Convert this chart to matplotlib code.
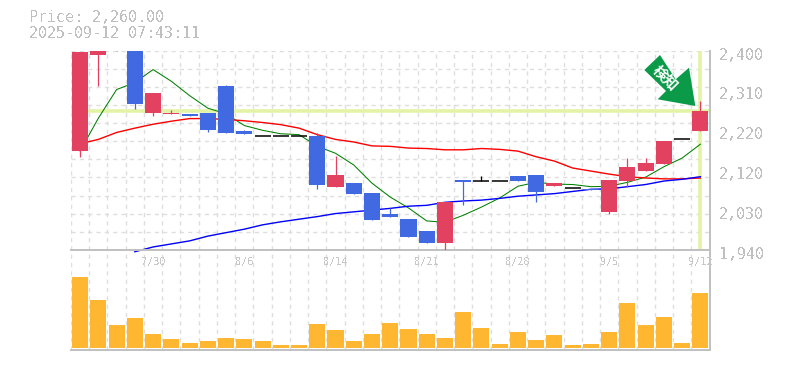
import numpy as np
import matplotlib
matplotlib.use('Agg')
import matplotlib.pyplot as plt
from matplotlib.patches import Polygon
from matplotlib.transforms import ScaledTranslation

plt.rcParams['text.antialiased'] = False

# candles, one per trading day
opens = [2168, 2389, 2402, 2398, 2257, 2253, 2253, 2255, 2317, 2214, 2202, 2202, 2202, 2202, 2086, 2094, 2071, 2023,
         2011, 1984, 1955, 2101, 2100, 2100, 2110, 2112, 2087, 2084, 2081, 2027, 2099, 2122, 2138, 2195, 2214]
highs = [2396, 2400, 2402, 2398, 2301, 2262, 2253, 2255, 2320, 2216, 2204, 2204, 2204, 2209, 2156, 2094, 2071, 2037,
         2011, 1984, 2050, 2101, 2110, 2100, 2110, 2112, 2094, 2084, 2081, 2101, 2152, 2152, 2191, 2195, 2283]
lows = [2155, 2317, 2398, 2265, 2248, 2253, 2248, 2211, 2209, 2207, 2202, 2202, 2202, 2081, 2086, 2070, 2010, 2017,
        1971, 1955, 1938, 2044, 2100, 2100, 2099, 2050, 2087, 2084, 2079, 2023, 2085, 2122, 2138, 2195, 2214]
closes = [2396, 2400, 2398, 2276, 2301, 2257, 2248, 2216, 2209, 2207, 2202, 2202, 2202, 2090, 2112, 2070, 2010, 2017,
          1971, 1955, 2050, 2096, 2100, 2100, 2099, 2073, 2094, 2084, 2079, 2101, 2131, 2140, 2191, 2195, 2260]

ma_short = [2168, 2244, 2310, 2326, 2356, 2329, 2296, 2267, 2254, 2227, 2216, 2208, 2206, 2179, 2163, 2136, 2094, 2062,
            2037, 2007, 2004, 2020, 2039, 2060, 2087, 2096, 2092, 2091, 2086, 2087, 2096, 2108, 2132, 2152, 2184]
ma_mid = [2185, 2195, 2211, 2221, 2230, 2237, 2243, 2243, 2241, 2238, 2234, 2229, 2221, 2206, 2195, 2189, 2180, 2179,
          2175, 2174, 2171, 2171, 2174, 2172, 2168, 2155, 2145, 2129, 2122, 2115, 2109, 2106, 2104, 2104, 2106]
# long average only starts on day 3
ma_long = [1936, 1947, 1954, 1961, 1972, 1980, 1988, 1998, 2005, 2011, 2017, 2024, 2028, 2032, 2036, 2041, 2043, 2050,
           2053, 2055, 2059, 2064, 2067, 2070, 2075, 2080, 2081, 2086, 2091, 2099, 2103, 2109]
ma_long_start = 3

volume = [71, 48, 23, 30, 14, 9, 5, 7, 10, 9, 7, 3, 3, 24, 18, 7, 14, 25,
          19, 14, 10, 36, 20, 4, 16, 8, 13, 3, 4, 16, 45, 23, 31, 5, 55]

date_pos = [4, 9, 14, 19, 24, 29, 34]
date_labels = ['7/30', '8/6', '8/14', '8/21', '8/28', '9/5', '9/12']
price_labels = ['1,940', '2,030', '2,120', '2,220', '2,310', '2,400']
price_now = 2260

RED = '#e2425f'
BLUE = '#4169e1'
ORANGE = '#ffb732'
LIGHT = '#e2f3a6'
GREY = '#c0c0c0'
GRID = '#dedede'
W, H = 785, 370

fig = plt.figure(figsize=(W / 100, H / 100), dpi=100)
ax = fig.add_axes([71 / W, 1 - 250 / H, 638.5 / W, 199.5 / H])
vol_ax = fig.add_axes([71 / W, 1 - 350 / H, 638.5 / W, 100 / H])
ax.set_zorder(2)
ax.patch.set_alpha(0)

days = np.arange(len(closes))
edges = np.arange(-0.5, len(closes))

for a in (ax, vol_ax):
    a.set_xlim(-0.5, len(closes) - 0.5)
    a.set_xticks(edges, minor=True)
    a.grid(which='minor', axis='x', color=GRID, lw=1, ls=(0, (3, 3)))
    a.tick_params(which='both', length=0)
    a.set_axisbelow(True)
    for s in ['top', 'left']:
        a.spines[s].set_visible(False)
    for s in ['bottom', 'right']:
        a.spines[s].set_color(GREY)
        a.spines[s].set_linewidth(1.4)

# price panel
ax.set_ylim(1940, 2400)
ax.set_yticks(np.linspace(1940, 2400, 12), minor=True)
ax.grid(which='minor', axis='y', color=GRID, lw=1, ls=(0, (3, 3)))
ax.axhline(2400, color=GRID, lw=1, ls=(0, (3, 3)), zorder=0.5)
ax.yaxis.tick_right()
ax.set_yticks(np.linspace(1940, 2400, 6))
ax.set_yticklabels(price_labels, family='DejaVu Sans Mono', fontsize=10.8, color=GREY)
ax.tick_params(axis='y', which='major', pad=7)
for lab in ax.get_yticklabels():
    lab.set_transform(lab.get_transform() + ScaledTranslation(0, -3 / 100, fig.dpi_scale_trans))
ax.set_xticks(date_pos)
ax.set_xticklabels(date_labels, family='DejaVu Sans Mono', fontsize=7.4, color='#c8c8c8')
ax.tick_params(axis='x', which='major', pad=5)

ax.axhline(price_now, color=LIGHT, lw=2.6, zorder=1)
ax.axvline(days[-1], color=LIGHT, lw=2.6, zorder=1)

ax.plot(days, ma_short, color='#008000', lw=0.75, zorder=2)
ax.plot(days, ma_mid, color='#ff0000', lw=1.0, zorder=2)
ax.plot(days[ma_long_start:], ma_long, color='#0000ff', lw=1.0, zorder=2, clip_on=False)

for i in days:
    o, h, l, c = opens[i], highs[i], lows[i], closes[i]
    col = RED if c > o else BLUE if c < o else 'black'
    ax.vlines(i, l, h, color=col, lw=0.9, zorder=3)
    if c == o:
        ax.hlines(c, i - 0.44, i + 0.44, color='black', lw=1.1, zorder=3)
    else:
        ax.bar(i, abs(c - o), bottom=min(o, c), width=0.88, color=col, zorder=3, antialiased=False)

# volume panel
vol_ax.set_ylim(-2, 98)
vol_ax.set_yticks([])
vol_ax.set_xticks([])
vol_ax.bar(days, volume, width=0.88, color=ORANGE, zorder=3, antialiased=False)

# header text
fig.text(29 / W, 1 - 18 / H, 'Price: 2,260.00', family='DejaVu Sans Mono', fontsize=10.8, color=GREY, va='center')
fig.text(29 / W, 1 - 33 / H, '2025-09-12 07:43:11', family='DejaVu Sans Mono', fontsize=10.8, color=GREY, va='center')

# signal arrow over the last candle
arrow_px = [(660, 55), (644.3, 70), (666, 91), (657.7, 99.3), (695.3, 106), (689, 67.7), (675.7, 79.3)]
arrow_fig = [(x / W, 1 - y / H) for x, y in arrow_px]
fig.add_artist(Polygon(arrow_fig, closed=True, transform=fig.transFigure, facecolor='#0a9a48', edgecolor='none', zorder=5))
fig.text(666 / W, 1 - 78 / H, '検知', family=['Noto Sans CJK JP', 'DejaVu Sans'], fontsize=10.5, fontweight='bold',
         color='white', rotation=-45, ha='center', va='center', rotation_mode='anchor', zorder=6, antialiased=True)

fig.savefig('out.png', dpi=100)
